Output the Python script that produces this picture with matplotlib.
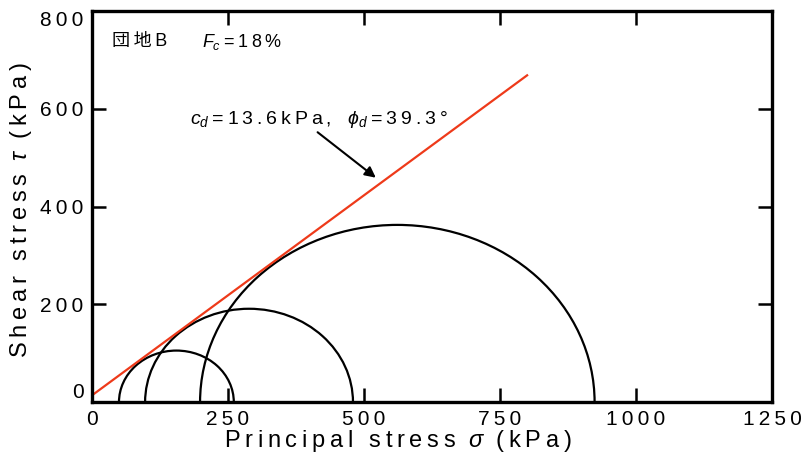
import numpy as np
import matplotlib
matplotlib.use("Agg")
import matplotlib.pyplot as plt
from matplotlib.patches import Arc
from matplotlib.ticker import FuncFormatter

# Mohr circles: minor / major principal stress (kPa)
sigma3 = [50, 98, 199]
sigma1 = [261, 480, 924]

# failure envelope parameters
c_d = 13.6
phi_d = 39.3
envelope_x = [0, 800]

x_ticks = [0, 250, 500, 750, 1000, 1250]
y_ticks = [0, 200, 400, 600, 800]

plt.rcParams['font.family'] = ['Liberation Sans', 'Noto Sans CJK JP', 'DejaVu Sans']
plt.rcParams['mathtext.fontset'] = 'custom'
plt.rcParams['mathtext.rm'] = 'Liberation Sans'
plt.rcParams['mathtext.it'] = 'Liberation Sans:italic'

SP = '\u2009'


def track(s):
    # widen letter spacing with thin spaces
    return SP.join(s)


fig = plt.figure(figsize=(8.05, 4.57), dpi=100)
ax = fig.add_axes([0.114, 0.120, 0.845, 0.856])

for s3, s1 in zip(sigma3, sigma1):
    center = (s3 + s1) / 2
    diam = s1 - s3
    ax.add_patch(Arc((center, 0), diam, diam, theta1=0, theta2=180,
                     color='black', lw=1.6))

ex = np.array(envelope_x, dtype=float)
ey = c_d + ex * np.tan(np.radians(phi_d))
ax.plot(ex, ey, color='#ee3a1a', lw=1.6)

ax.annotate('', xy=(522, 459), xytext=(415, 552),
            arrowprops=dict(arrowstyle='-|>', color='black', lw=1.5,
                            mutation_scale=16, shrinkA=0, shrinkB=0))
ax.text(180, 578, r'$c_d$' + SP + track('=13.6kPa,') + r'$\ \ \ $' + r'$\phi_d$' + SP + track('=39.3°'),
        fontsize=14, va='center', ha='left')
ax.text(38, 737, track('団地B'), fontsize=13, va='center', ha='left')
ax.text(202, 737, r'$F_c$' + SP + track('=18%'), fontsize=13, va='center', ha='left')

ax.set_xlim(0, 1250)
ax.set_ylim(0, 800)
ax.set_xticks(x_ticks)
ax.set_yticks(y_ticks)
ax.xaxis.set_major_formatter(FuncFormatter(lambda v, p: track(str(int(v)))))
ax.yaxis.set_major_formatter(FuncFormatter(lambda v, p: track(str(int(v)))))
ax.tick_params(direction='in', length=10, width=1.8, top=True, right=True,
               labelsize=15, pad=6)
# keep the end labels of the y axis inside the frame height
ylabels = ax.get_yticklabels()
ylabels[0].set_va('bottom')
ylabels[-1].set_va('top')
for sp in ax.spines.values():
    sp.set_linewidth(2.4)

ax.set_xlabel(track('Principal stress') + r'$\ \ \sigma\ \ $' + track('(kPa)'), fontsize=17)
ax.xaxis.set_label_coords(0.45, -0.065)
ax.set_ylabel(track('Shear stress') + r'$\ \ \tau\ \ $' + track('(kPa)'), fontsize=17)
ax.yaxis.set_label_coords(-0.085, 0.49)

fig.savefig('out.png', dpi=100)
